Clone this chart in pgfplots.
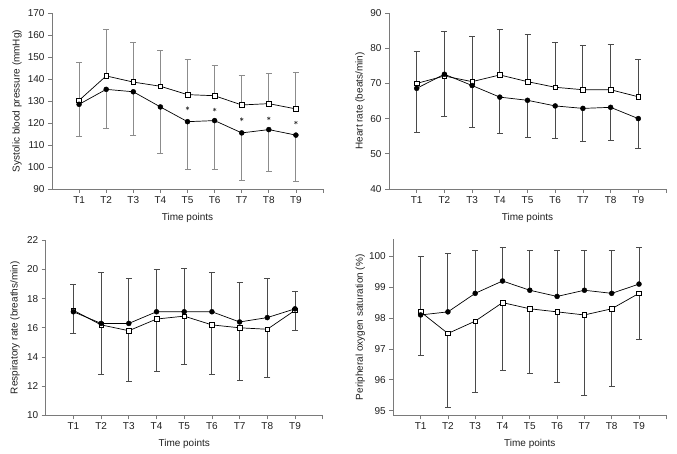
\documentclass[border=0pt]{standalone}
\usepackage{pgfplots}
\pgfplotsset{compat=1.18}
\usepackage{pgfplotstable}
\usepackage{fontspec}
\setmainfont{Liberation Sans}

\definecolor{axisgray}{HTML}{7A7A7A}
\definecolor{ebgrayA}{HTML}{8C8C8C}
\definecolor{ebgrayB}{HTML}{4A4A4A}

% Systolic blood pressure: open (upper bar), filled (lower bar)
\pgfplotstableread{
x  open  otop  fil  fbot
1 130.3 147.3 128.5 114.1
2 141.4 162.3 135.3 117.6
3 138.6 156.7 134.2 114.4
4 136.7 153.2 127.3 106.2
5 132.9 148.8 120.6 99.1
6 132.4 146.2 121.1 98.8
7 128.2 141.5 115.5 93.8
8 128.8 142.6 117.0 97.9
9 126.4 143.0 114.5 93.5
}\sbp

% Heart rate
\pgfplotstableread{
x open otop fil fbot
1 70.0 79.1 68.6 56.0
2 72.1 84.9 72.6 60.7
3 70.5 83.3 69.4 57.4
4 72.4 85.4 66.1 55.7
5 70.5 83.9 65.2 54.7
6 68.9 81.7 63.6 54.4
7 68.2 80.9 62.9 53.6
8 68.2 81.0 63.2 53.9
9 66.2 76.7 60.0 51.4
}\hr

% Respiratory rate: filled (upper bar), open (lower bar)
\pgfplotstableread{
x fil ftop open obot
1 17.1 19.0 17.2 15.6
2 16.3 19.8 16.2 12.8
3 16.3 19.4 15.8 12.3
4 17.1 20.0 16.6 13.0
5 17.1 20.1 16.8 13.5
6 17.1 19.8 16.2 12.8
7 16.4 19.1 16.0 12.4
8 16.7 19.4 15.9 12.6
9 17.3 18.5 17.2 15.8
}\rr

% Peripheral oxygen saturation
\pgfplotstableread{
x fil ftop open obot
1 98.1 100.0 98.2 96.8
2 98.2 100.1 97.5 95.1
3 98.8 100.2 97.9 95.6
4 99.2 100.3 98.5 96.3
5 98.9 100.2 98.3 96.2
6 98.7 100.2 98.2 95.9
7 98.9 100.2 98.1 95.5
8 98.8 100.2 98.3 95.8
9 99.1 100.3 98.8 97.3
}\spo

\pgfplotsset{
  panel/.style={
    scale only axis,
    xmin=0, xmax=10, enlargelimits=false,
    axis x line=bottom, axis y line=left,
    axis line style={-, draw=axisgray, line width=0.9pt},
    tick align=outside, major tick length=4pt,
    every tick/.style={draw=axisgray, line width=0.8pt},
    xtick={1,...,10}, xticklabels={T1,T2,T3,T4,T5,T6,T7,T8,T9,{}},
    ticklabel style={font=\fontsize{10}{12}\selectfont, text=black!88},
    label style={font=\fontsize{10}{12}\selectfont, text=black!88},
    xlabel={Time points},
    xlabel style={at={(axis description cs:0.5,0)}, anchor=center, yshift=-29pt},
    /pgf/number format/assume math mode=true,
  },
  ser/.style={draw=black, line width=0.7pt, mark=none},
  ebA/.style={/pgfplots/error bars/.cd, y dir=#1, y explicit,
     error bar style={draw=ebgrayA, line width=1.1pt},
     error mark options={rotate=90, draw=ebgrayA, line width=0.9pt, mark size=3pt},
     /pgfplots/.cd},
  ebB/.style={/pgfplots/error bars/.cd, y dir=#1, y explicit,
     error bar style={draw=ebgrayB, line width=0.9pt},
     error mark options={rotate=90, draw=ebgrayB, line width=0.8pt, mark size=3pt},
     /pgfplots/.cd},
  openm/.style={only marks, mark=square*, mark size=2.3pt, mark options={fill=white, draw=black, line width=0.6pt}},
  film/.style={only marks, mark=*, mark size=2.5pt, mark options={fill=black, draw=black}},
}

\begin{document}
\begin{tikzpicture}
\useasboundingbox (0,0) rectangle (677pt,-454pt);

% Panel 1: SBP
\begin{axis}[panel, at={(52pt,-189pt)}, anchor=south west,
  width=271pt, height=176pt,
  ymin=90, ymax=170, ytick={90,100,...,170},
  ylabel={Systolic blood pressure (mmHg)},
  ylabel style={at={(axis description cs:-0.129,0.5)}, anchor=center}]
\addplot[ser, ebA=plus] table[x=x, y=open, y error plus expr=\thisrow{otop}-\thisrow{open}] {\sbp};
\addplot[ser, ebA=minus] table[x=x, y=fil, y error minus expr=\thisrow{fil}-\thisrow{fbot}] {\sbp};
\addplot[openm] table[x=x, y=open] {\sbp};
\addplot[film] table[x=x, y=fil] {\sbp};
\addplot[only marks, mark=asterisk, mark size=1.8pt, mark options={line width=0.5pt, draw=black!80}]
  coordinates {(5,126.7) (6,126.1) (7,121.7) (8,122.1) (9,120.2)};
\end{axis}

% Panel 2: HR
\begin{axis}[panel, at={(389pt,-189pt)}, anchor=south west,
  width=277pt, height=176pt,
  ymin=40, ymax=90, ytick={40,50,...,90},
  ylabel={Heart rate (beats/min)},
  ylabel style={at={(axis description cs:-0.105,0.5)}, anchor=center}]
\addplot[ser, ebB=plus] table[x=x, y=open, y error plus expr=\thisrow{otop}-\thisrow{open}] {\hr};
\addplot[ser, ebB=minus] table[x=x, y=fil, y error minus expr=\thisrow{fil}-\thisrow{fbot}] {\hr};
\addplot[openm] table[x=x, y=open] {\hr};
\addplot[film] table[x=x, y=fil] {\hr};
\end{axis}

% Panel 3: Respiratory rate
\begin{axis}[panel, at={(45.7pt,-415.3pt)}, anchor=south west,
  width=277pt, height=175pt,
  ymin=10, ymax=22, ytick={10,12,...,22},
  ylabel={Respiratory rate (breaths/min)},
  ylabel style={at={(axis description cs:-0.111,0.5)}, anchor=center}]
\addplot[ser, ebB=plus] table[x=x, y=fil, y error plus expr=\thisrow{ftop}-\thisrow{fil}] {\rr};
\addplot[ser, ebB=minus] table[x=x, y=open, y error minus expr=\thisrow{open}-\thisrow{obot}] {\rr};
\addplot[openm] table[x=x, y=open] {\rr};
\addplot[film] table[x=x, y=fil] {\rr};
\end{axis}

% Panel 4: SpO2
\begin{axis}[panel, at={(393.3pt,-415.3pt)}, anchor=south west,
  width=273pt, height=176pt,
  ymin=94.85, ymax=100.55, ytick={95,96,...,100},
  ylabel={Peripheral oxygen saturation (\%)},
  ylabel style={at={(axis description cs:-0.121,0.5)}, anchor=center}]
\addplot[ser, ebB=plus] table[x=x, y=fil, y error plus expr=\thisrow{ftop}-\thisrow{fil}] {\spo};
\addplot[ser, ebB=minus] table[x=x, y=open, y error minus expr=\thisrow{open}-\thisrow{obot}] {\spo};
\addplot[openm] table[x=x, y=open] {\spo};
\addplot[film] table[x=x, y=fil] {\spo};
\end{axis}
\end{tikzpicture}
\end{document}
